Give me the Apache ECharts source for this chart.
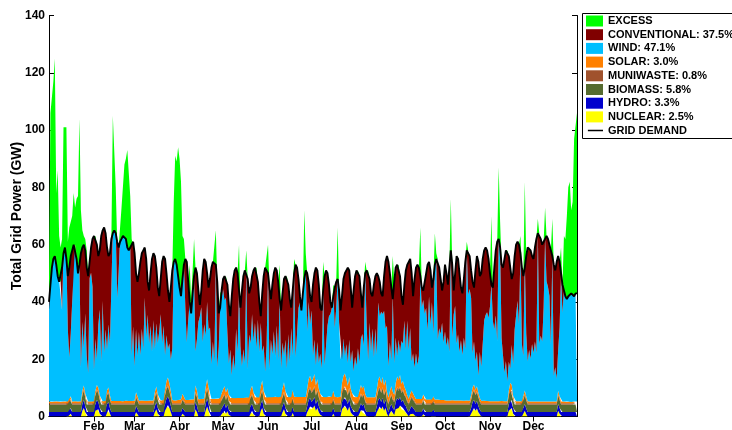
<!DOCTYPE html>
<html>
<head>
<meta charset="utf-8">
<script src="https://cdn.jsdelivr.net/npm/echarts@6/dist/echarts.min.js"></script>
<style>
html,body{margin:0;padding:0;background:#fff}
#chart{width:732px;height:430px}
</style>
</head>
<body>
<div id="chart"></div>
<script>
// Daily grid balance over one year (GW). One row per week, last value is day 365.
const monthNames = ['Jan','Feb','Mar','Apr','May','Jun','Jul','Aug','Sep','Oct','Nov','Dec'];
const monthStarts = [0,31,59,90,120,151,181,212,243,273,304,334];

const demand = [
40,46,52,55,56,53,49, 47,47,52,57,59,55,49, 52,56,58,60,60,55,50, 53,57,59,60,58,52,49,
54,59,62,63,63,60,56, 58,63,65,66,64,59,56, 57,62,64,65,64,61,59, 61,62,63,63,62,59,58,
59,60,61,57,50,47,50, 54,57,58,59,55,47,44, 50,55,57,56,52,45,42, 48,54,56,55,50,44,40,
45,51,54,55,53,49,45, 42,48,53,55,54,47,40, 36,43,49,52,50,44,39, 44,51,55,54,50,45,48,
52,54,54,53,47,36,38, 44,48,49,49,46,39,35, 42,48,51,52,50,44,38, 44,49,51,51,48,43,45,
49,51,52,52,47,40,35, 43,49,52,52,50,45,41, 46,50,52,51,47,41,37, 43,48,49,49,46,41,38,
44,50,53,52,48,42,37, 43,48,51,50,47,42,40, 46,50,52,51,46,38,37, 44,49,51,50,46,40,38,
42,45,47,48,44,37,42, 48,50,51,52,51,45,38, 44,49,51,51,49,43,38, 45,50,51,51,48,43,42,
46,49,50,49,47,43,42, 49,54,56,54,50,45,41, 47,52,53,53,49,42,39, 46,51,53,54,55,50,42,
48,52,53,52,49,45,44, 47,50,53,54,51,45,48, 53,55,55,52,48,44,47, 53,50,46,52,58,53,44,
50,56,55,50,45,43,48, 54,58,58,56,51,47,45, 51,56,54,49,50,55,58, 59,58,55,50,46,45,52,
58,61,62,59,53,52,55, 58,58,56,52,48,50,56, 60,61,60,57,52,49,52, 56,59,59,58,56,55,59,
62,64,64,62,60,61,62, 63,62,60,58,56,53,51, 54,56,54,50,46,44,42, 41,42,42,43,43,42,43,
43];

const wind = [
32,42,48,51,52,49,45, 42,42,32,52,54,50,25, 13,22,35,55,55,50,45, 48,12,24,13,28,16,10,
43,45,40,11,18,9,22, 30,14,35,17,25,14,22, 18,40,60,61,60,36,45, 57,58,59,59,58,55,54,
55,16,26,12,22,14,24, 16,25,18,36,22,30,20, 26,17,28,15,22,18,24, 30,20,26,12,16,10,14,
11,18,49,50,48,44,40, 36,41,47,32,20,28,34, 30,37,43,12,18,27,29, 32,20,26,18,27,20,25,
12,20,13,47,11,18,32, 33,35,30,33,19,11,17, 8,15,10,24,16,38,18, 11,17,12,45,10,22,16,
25,18,26,17,27,16,22, 10,16,9,18,44,10,20, 15,23,14,25,13,35,10, 16,9,18,10,22,12,24,
12,44,14,22,31,33,30, 33,42,45,20,27,18,25, 8,12,7,13,9,14,10, 38,11,18,25,28,29,31,
35,24,31,42,26,13,8, 13,6,12,8,13,9,15, 9,14,11,17,10,16,19, 14,44,25,13,26,16,24,
14,24,12,27,21,25,22, 26,18,23,11,17,9,34, 11,16,7,14,8,15,13, 23,14,26,17,23,10,14,
10,16,12,15,43,32,33, 30,32,24,36,26,34,22, 47,49,21,25,23,27,20, 24,19,22,17,53,22,30,
33,20,23,17,21,16,22, 18,53,37,39,34,12,15, 10,12,6,16,12,20,28, 30,31,29,33,41,28,25,
30,21,57,54,22,16,10, 14,7,10,5,14,11,25, 30,35,27,52,20,14,46, 22,14,18,15,20,17,21,
17,59,20,23,21,33,57, 42,40,37,20,51,9,12, 8,14,24,45,31,39,37, 36,37,37,38,38,37,38,
38];

const excess = [
8,60,54,62,69,25,37, 16,12,10,44,42,46,12, 14,10,12,18,13,21,27, 51,15,6,3,4,6,0,
0,0,0,0,0,0,0, 0,0,0,0,0,0,0, 0,0,41,40,16,0,0, 5,11,10,25,28,34,35,
18,2,1,0,0,0,0, 0,0,0,0,0,0,0, 0,0,0,0,0,0,0, 0,0,0,0,0,0,0,
0,0,21,36,36,45,45, 40,15,9,0,0,0,13, 5,8,13,0,0,0,0, 0,0,0,0,0,0,0,
0,0,0,12,0,0,5, 0,0,0,0,0,0,0, 0,0,0,0,0,16,0, 0,0,0,7,0,0,0,
0,0,0,0,0,0,0, 0,0,0,0,10,0,0, 0,0,0,0,0,12,0, 0,0,0,0,0,0,0,
0,5,0,0,0,0,0, 0,24,6,0,0,0,0, 0,0,0,0,0,0,0, 10,0,0,0,0,0,0,
4,0,0,18,0,0,0, 0,0,0,0,0,0,0, 0,0,0,0,0,0,0, 0,4,0,0,0,0,0,
0,0,0,0,0,0,0, 0,0,0,0,0,0,15, 0,0,0,0,0,0,0, 0,0,0,0,0,0,0,
0,0,0,0,17,0,0, 0,0,0,0,0,0,0, 11,2,0,0,0,0,0, 0,0,0,0,18,0,0,
0,0,0,0,0,0,0, 0,3,0,0,0,0,0, 0,0,0,0,0,0,0, 0,0,0,0,24,0,0,
0,0,25,9,0,0,0, 0,0,0,0,0,0,0, 0,0,0,6,0,0,30, 0,0,0,0,0,0,0,
0,5,0,0,0,0,11, 0,0,0,0,13,0,0, 0,0,0,9,0,19,20, 29,38,40,29,32,55,54,
63];

const nuclear = [
0,0,0,0,0,0,0, 0,0,0,0,0,0,0, 1.2,1.0,0,0,0,0,0, 0,0,2.0,3.0,1.5,0,0,
0,0,0,0,2.0,3.0,2.5, 1.0,0,0,0,0,2.0,2.5, 1.0,0,0,0,0,0,0, 0,0,0,0,0,0,0,
0,0,0,0,1.5,0.8,0, 0,0,0,0,0,0,0, 0,0,0,1.5,2.5,1.0,0, 0,0,0,2.0,3.5,4.0,3.0,
1.5,0,0,0,0,0,0, 0,1.0,0.5,0,0,0,0, 0,0,0,2.5,1.5,0,0, 0,0,0,2.0,3.5,2.0,0,
0,0,0,0,0,0,0, 0.8,1.5,2.0,1.0,1.8,0.6,0, 0,0,0,0,0,0,0, 0,0,0,0,0,0,1.5,
2.0,0.8,0,0,0,0,2.0, 3.0,1.0,0,0,0,0,0, 0,0,0,0,0,0,0, 1.5,2.5,1.0,0,0,0,0,
1.2,0,0,0,0,0,0, 0,0,0,1.5,3.0,3.5,2.5, 3.0,3.8,2.0,3.0,1.5,0.6,0, 0,0,0,0,0,0,0,
1.0,0,0,0,0,0,2.5, 3.5,3.8,3.0,2.0,3.5,1.5,0.8, 0,0,0,0,1.0,2.2,1.5, 2.0,0.6,0,0,0,0,0,
0,0,1.5,3.0,3.5,2.5,3.5, 2.0,3.0,1.0,0,1.2,2.0,1.0, 0.5,2.5,3.5,3.0,3.8,2.5,3.0, 2.0,1.5,0.6,0,0.8,1.5,1.0,
0.5,0,0,0,0,0,0.8, 0,0,0,0,0,0,0.5, 0,0,0,0,0,0,0, 0,0,0,0,0,0,0,
0,0,0,0,0,0,0, 0,0,0,0,1.0,2.5,3.0, 2.0,2.8,1.5,0.6,0,0,0, 0,0,0,0,0,0,0,
0,0,0,0,0,0,0, 0,0,2.0,3.5,3.0,1.0,0, 0,0,0,0,0,1.0,2.0, 0.8,0,0,0,0,0,0,
0,0,0,0,0,0,0, 0,0,0,0,0,0,0, 0,2.0,1.0,0,0,0,0, 0,0,0,0,0,0,0,
0];

const hydro = [
1.6,1.6,1.6,1.6,1.6,1.6,1.6, 1.6,1.6,1.6,1.6,1.6,1.6,1.6, 2.2,2.0,1.6,1.6,1.6,1.6,1.6, 1.6,1.6,2.4,2.8,2.2,1.6,1.6,
1.6,1.6,1.6,1.6,2.4,2.8,2.6, 2.0,1.6,1.6,1.6,1.6,2.4,2.6, 2.0,1.6,1.6,1.6,1.6,1.6,1.6, 1.6,1.6,1.6,1.6,1.6,1.6,1.6,
1.6,1.6,1.6,1.6,2.2,1.9,1.6, 1.6,1.6,1.6,1.6,1.6,1.6,1.6, 1.6,1.6,1.6,2.2,2.6,2.0,1.6, 1.6,1.6,1.6,2.4,2.8,3.0,2.6,
2.2,1.6,1.6,1.6,1.6,1.6,1.6, 1.6,2.0,1.8,1.6,1.6,1.6,1.6, 1.6,1.6,1.6,2.6,2.2,1.6,1.6, 1.6,1.6,1.6,2.4,2.8,2.4,1.6,
1.6,1.6,1.6,1.6,1.6,1.6,1.6, 2.0,2.2,2.6,2.0,2.4,1.8,1.6, 1.6,1.6,1.6,1.6,1.6,1.6,1.6, 1.6,1.6,1.6,1.6,1.6,1.6,2.2,
2.4,1.9,1.6,1.6,1.6,1.6,2.4, 2.8,2.0,1.6,1.6,1.6,1.6,1.6, 1.6,1.6,1.6,1.6,1.6,1.6,1.6, 2.2,2.6,2.0,1.6,1.6,1.6,1.6,
2.0,1.6,1.6,1.6,1.6,1.6,1.6, 1.6,1.6,1.6,2.2,2.8,3.0,2.6, 2.8,3.0,2.4,2.8,2.2,1.8,1.6, 1.6,1.6,1.6,1.6,1.6,1.6,1.6,
2.0,1.6,1.6,1.6,1.6,1.6,2.6, 3.0,3.0,2.8,2.4,2.8,2.2,1.8, 1.6,1.6,1.6,1.6,2.0,2.4,2.2, 2.4,1.8,1.6,1.6,1.6,1.6,1.6,
1.6,1.6,2.2,2.8,3.0,2.6,3.0, 2.4,2.8,2.0,1.6,2.0,2.4,2.0, 1.8,2.6,3.0,2.8,3.0,2.6,2.8, 2.4,2.2,1.8,1.6,2.0,2.2,2.0,
1.8,1.6,1.6,1.6,1.6,1.6,2.0, 1.6,1.6,1.6,1.6,1.6,1.6,1.9, 1.6,1.6,1.6,1.6,1.6,1.6,1.6, 1.6,1.6,1.6,1.6,1.6,1.6,1.6,
1.6,1.6,1.6,1.6,1.6,1.6,1.6, 1.6,1.6,1.6,1.6,2.0,2.6,2.8, 2.4,2.6,2.2,1.8,1.6,1.6,1.6, 1.6,1.6,1.6,1.6,1.6,1.6,1.6,
1.6,1.6,1.6,1.6,1.6,1.6,1.6, 1.6,1.6,2.4,2.8,2.8,2.0,1.6, 1.6,1.6,1.6,1.6,1.6,2.0,2.4, 2.0,1.6,1.6,1.6,1.6,1.6,1.6,
1.6,1.6,1.6,1.6,1.6,1.6,1.6, 1.6,1.6,1.6,1.6,1.6,1.6,1.6, 1.6,2.4,2.0,1.6,1.6,1.6,1.6, 1.6,1.6,1.6,1.6,1.6,1.6,1.6,
1.6];

const biomass = [
2.6,2.6,2.6,2.6,2.6,2.6,2.6, 2.6,2.6,2.6,2.6,2.6,2.6,2.6, 2.9,2.8,2.6,2.6,2.6,2.6,2.6, 2.6,2.6,3.0,3.2,2.9,2.6,2.6,
2.6,2.6,2.6,2.6,3.0,3.2,3.1, 2.8,2.6,2.6,2.6,2.6,3.0,3.1, 2.8,2.6,2.6,2.6,2.6,2.6,2.6, 2.6,2.6,2.6,2.6,2.6,2.6,2.6,
2.6,2.6,2.6,2.6,2.9,2.8,2.6, 2.6,2.6,2.6,2.6,2.6,2.6,2.6, 2.6,2.6,2.6,2.9,3.1,2.8,2.6, 2.6,2.6,2.6,3.0,3.3,3.4,3.1,
2.9,2.6,2.6,2.6,2.6,2.6,2.6, 2.6,2.8,2.7,2.6,2.6,2.6,2.6, 2.6,2.6,2.6,3.1,2.9,2.6,2.6, 2.6,2.6,2.6,3.0,3.3,3.0,2.6,
2.6,2.6,2.6,2.6,2.6,2.6,2.6, 2.8,2.9,3.0,2.8,2.9,2.7,2.6, 2.6,2.6,2.6,2.6,2.6,2.6,2.6, 2.6,2.6,2.6,2.6,2.6,2.6,2.9,
3.0,2.8,2.6,2.6,2.6,2.6,3.0, 3.2,2.8,2.6,2.6,2.6,2.6,2.6, 2.6,2.6,2.6,2.6,2.6,2.6,2.6, 2.9,3.1,2.8,2.6,2.6,2.6,2.6,
2.8,2.6,2.6,2.6,2.6,2.6,2.6, 2.6,2.6,2.6,2.9,3.2,3.3,3.1, 3.2,3.4,2.9,3.2,2.9,2.7,2.6, 2.6,2.6,2.6,2.6,2.6,2.6,2.6,
2.8,2.6,2.6,2.6,2.6,2.6,3.1, 3.3,3.4,3.2,2.9,3.3,2.9,2.7, 2.6,2.6,2.6,2.6,2.8,3.0,2.9, 3.0,2.7,2.6,2.6,2.6,2.6,2.6,
2.6,2.6,2.9,3.2,3.3,3.1,3.3, 3.0,3.2,2.8,2.6,2.8,3.0,2.8, 2.7,3.1,3.3,3.2,3.4,3.1,3.2, 3.0,2.9,2.7,2.6,2.8,2.9,2.8,
2.7,2.6,2.6,2.6,2.6,2.6,2.8, 2.6,2.6,2.6,2.6,2.6,2.6,2.7, 2.6,2.6,2.6,2.6,2.6,2.6,2.6, 2.6,2.6,2.6,2.6,2.6,2.6,2.6,
2.6,2.6,2.6,2.6,2.6,2.6,2.6, 2.6,2.6,2.6,2.6,2.8,3.0,3.2, 3.0,3.1,2.9,2.7,2.6,2.6,2.6, 2.6,2.6,2.6,2.6,2.6,2.6,2.6,
2.6,2.6,2.6,2.6,2.6,2.6,2.6, 2.6,2.6,3.0,3.3,3.2,2.8,2.6, 2.6,2.6,2.6,2.6,2.6,2.8,3.0, 2.8,2.6,2.6,2.6,2.6,2.6,2.6,
2.6,2.6,2.6,2.6,2.6,2.6,2.6, 2.6,2.6,2.6,2.6,2.6,2.6,2.6, 2.6,3.0,2.8,2.6,2.6,2.6,2.6, 2.6,2.6,2.6,2.6,2.6,2.6,2.6,
2.6];

const solar = [
0.6,0.6,0.5,0.6,0.6,0.7,0.6, 0.6,0.5,0.6,0.6,0.7,0.6,0.6, 1.0,0.9,0.6,0.6,0.7,0.6,0.6, 0.6,0.7,1.2,1.4,1.0,0.6,0.6,
0.7,0.6,0.7,0.7,1.3,1.6,1.4, 1.1,0.8,0.7,0.7,0.8,1.4,1.5, 1.2,0.8,0.7,0.8,0.7,0.8,0.7, 0.8,0.8,0.7,0.8,0.9,0.8,0.8,
0.9,0.8,0.8,0.9,1.5,1.2,0.9, 0.9,1.0,0.9,0.9,1.0,0.9,1.0, 1.0,1.1,1.0,1.6,1.9,1.5,1.0, 1.1,1.0,1.1,1.6,2.4,2.8,2.4,
1.8,1.2,1.1,1.0,1.1,1.2,1.2, 1.3,1.7,1.5,1.2,1.3,1.2,1.4, 1.3,1.2,1.4,2.2,2.0,1.4,1.4, 1.5,1.4,1.6,2.4,3.0,2.4,1.5,
1.6,1.5,1.6,1.5,1.7,1.6,1.8, 2.0,2.4,2.6,2.2,2.4,2.0,1.8, 1.9,2.0,1.8,2.0,1.9,2.0,1.9, 2.0,1.9,2.1,2.0,2.1,2.0,2.6,
2.9,2.4,2.0,2.1,2.2,2.0,2.8, 3.2,2.6,2.1,2.0,2.2,2.1,2.2, 2.1,2.2,2.3,2.2,2.1,2.2,2.3, 2.8,3.4,2.6,2.2,2.1,2.3,2.2,
2.8,2.3,2.1,2.2,2.3,2.2,2.1, 2.2,2.3,2.2,2.8,3.6,4.0,3.4, 3.8,4.2,3.2,3.6,2.8,2.4,2.2, 2.2,2.3,2.1,2.2,2.4,2.2,2.3,
2.8,2.3,2.2,2.1,2.2,2.3,3.2, 4.0,4.4,3.8,3.0,3.8,2.8,2.4, 2.2,2.3,2.1,2.2,2.6,3.0,2.8, 2.8,2.4,2.1,2.0,2.1,2.0,2.1,
2.0,2.1,2.6,3.4,3.8,3.0,3.6, 3.0,3.4,2.4,2.0,2.4,2.8,2.4, 2.2,3.0,3.8,3.4,3.9,2.8,3.0, 2.6,2.2,1.9,1.6,1.9,2.1,1.8,
1.6,1.5,1.4,1.5,1.4,1.5,1.7, 1.4,1.3,1.4,1.3,1.4,1.3,1.5, 1.3,1.2,1.3,1.2,1.2,1.1,1.2, 1.1,1.0,1.1,1.0,1.0,1.1,1.0,
1.0,0.9,1.0,0.9,1.0,0.9,0.9, 0.9,1.0,0.9,0.9,1.2,1.6,1.8, 1.5,1.7,1.3,1.0,0.9,0.8,0.9, 0.8,0.8,0.8,0.7,0.8,0.7,0.8,
0.7,0.8,0.7,0.7,0.8,0.7,0.7, 0.7,0.7,1.3,1.8,1.6,1.0,0.7, 0.7,0.7,0.7,0.6,0.7,1.0,1.3, 1.0,0.7,0.6,0.6,0.7,0.6,0.6,
0.6,0.6,0.6,0.6,0.6,0.6,0.6, 0.6,0.6,0.6,0.6,0.6,0.6,0.6, 0.6,1.2,0.9,0.6,0.6,0.6,0.6, 0.5,0.6,0.6,0.5,0.6,0.6,0.5,
0.6];

// Waste-to-energy output, one value per month
const muniwasteMonthly = [0.4,0.4,0.4,0.4,0.4,0.4,0.4,0.4,0.4,0.4,0.4,0.4];

// Annual energy shares shown in the legend
const shareLabels = {
  CONVENTIONAL: '37.5%', WIND: '47.1%', SOLAR: '3.0%', MUNIWASTE: '0.8%',
  BIOMASS: '5.8%', HYDRO: '3.3%', NUCLEAR: '2.5%'
};

const colors = {
  EXCESS: '#00ff00', CONVENTIONAL: '#800000', WIND: '#00bfff', SOLAR: '#ff8000',
  MUNIWASTE: '#a0522d', BIOMASS: '#556b2f', HYDRO: '#0000cd', NUCLEAR: '#ffff00'
};

const days = demand.map((_, i) => String(i));
const monthOfDay = i => { let m = 11; while (monthStarts[m] > i) m--; return m; };
const muniwaste = days.map((_, i) => muniwasteMonthly[monthOfDay(i)]);
const conventional = demand.map((d, i) => {
  const res = nuclear[i] + hydro[i] + biomass[i] + muniwaste[i] + solar[i] + wind[i];
  return Math.max(0, +(d - res).toFixed(2));
});

const label = k => shareLabels[k] ? k + ': ' + shareLabels[k] : k;
const FONT = "'Liberation Sans', Arial, Helvetica, sans-serif";
const isMonthTick = i => i > 0 && monthStarts.indexOf(i) >= 0;

function area(key, data, stack) {
  return {
    name: label(key), type: 'line', stack: stack, data: data,
    symbol: 'none', showSymbol: false, silent: true,
    lineStyle: { width: 0 }, itemStyle: { color: colors[key] },
    areaStyle: { color: colors[key], opacity: 1 },
    emphasis: { disabled: true }
  };
}

const series = [
  area('NUCLEAR', nuclear, 'gen'),
  area('HYDRO', hydro, 'gen'),
  area('BIOMASS', biomass, 'gen'),
  area('MUNIWASTE', muniwaste, 'gen'),
  area('SOLAR', solar, 'gen'),
  area('WIND', wind, 'gen'),
  area('CONVENTIONAL', conventional, 'gen'),
  { // surplus is measured from the demand curve upward
    name: 'demandBase', type: 'line', stack: 'surplus', data: demand,
    symbol: 'none', silent: true, lineStyle: { opacity: 0, width: 0 }
  },
  area('EXCESS', excess, 'surplus'),
  {
    name: 'GRID DEMAND', type: 'line', data: demand, symbol: 'none', showSymbol: false,
    silent: true, z: 5, itemStyle: { color: '#000' },
    lineStyle: { color: '#000', width: 1.9 }
  }
];

const legendOrder = ['EXCESS','CONVENTIONAL','WIND','SOLAR','MUNIWASTE','BIOMASS','HYDRO','NUCLEAR'];
// thin horizontal bar centred in an 18x11 box
const lineIcon = 'path://M0,0L0,0Z M2,4.6L18,4.6L18,6.2L2,6.2Z M18,11L18,11Z';

const chart = echarts.init(document.getElementById('chart'), null, { renderer: 'canvas' });
chart.setOption({
  animation: false,
  backgroundColor: '#fff',
  textStyle: { fontFamily: FONT },
  grid: { left: 49, right: 155, top: 15.5, bottom: 13.5, containLabel: false, outerBoundsMode: 'none' },
  legend: {
    orient: 'vertical', left: 586, top: 15.5, padding: 0,
    itemWidth: 17, itemHeight: 11, itemGap: 2.7,
    selectedMode: false,
    textStyle: { fontFamily: FONT, fontWeight: 'bold', fontSize: 11, color: '#000' },
    data: legendOrder.map(k => ({ name: label(k), icon: 'rect' }))
      .concat([{ name: 'GRID DEMAND', icon: lineIcon, itemStyle: { color: '#000' } }])
  },
  graphic: [{
    type: 'rect', z: -1, silent: true,
    shape: { x: 582.5, y: 13.5, width: 160, height: 125 },
    style: { fill: '#fff', stroke: '#000', lineWidth: 1 }
  }],
  xAxis: [{
    type: 'category', data: days, boundaryGap: false, position: 'bottom',
    axisLine: { lineStyle: { color: '#000', width: 1 } },
    axisTick: { inside: true, length: 5, interval: isMonthTick, lineStyle: { color: '#000' } },
    axisLabel: {
      interval: isMonthTick, margin: 4,
      formatter: v => monthNames[monthStarts.indexOf(Number(v))],
      color: '#000', fontWeight: 'bold', fontSize: 12, fontFamily: FONT
    },
    splitLine: { show: false }
  }, {
    type: 'category', data: days, boundaryGap: false, position: 'top',
    axisLine: { lineStyle: { color: '#000', width: 1 } },
    axisTick: { inside: true, length: 5, interval: isMonthTick, lineStyle: { color: '#000' } },
    axisLabel: { show: false }, splitLine: { show: false }
  }],
  yAxis: [{
    type: 'value', min: 0, max: 140, interval: 20,
    name: 'Total Grid Power (GW)', nameLocation: 'middle', nameGap: 25, nameMoveOverlap: false,
    nameTextStyle: { fontWeight: 'bold', fontSize: 14, color: '#000', fontFamily: FONT },
    axisLine: { show: true, lineStyle: { color: '#000', width: 1 } },
    axisTick: { show: true, inside: true, length: 5, lineStyle: { color: '#000' } },
    axisLabel: { color: '#000', fontWeight: 'bold', fontSize: 12, margin: 4, fontFamily: FONT },
    splitLine: { show: false }
  }, {
    type: 'value', min: 0, max: 140, interval: 20, position: 'right',
    axisLine: { show: true, lineStyle: { color: '#000', width: 1 } },
    axisTick: { show: true, inside: true, length: 5, lineStyle: { color: '#000' } },
    axisLabel: { show: false }, splitLine: { show: false }
  }],
  series: series
});
</script>
</body>
</html>
